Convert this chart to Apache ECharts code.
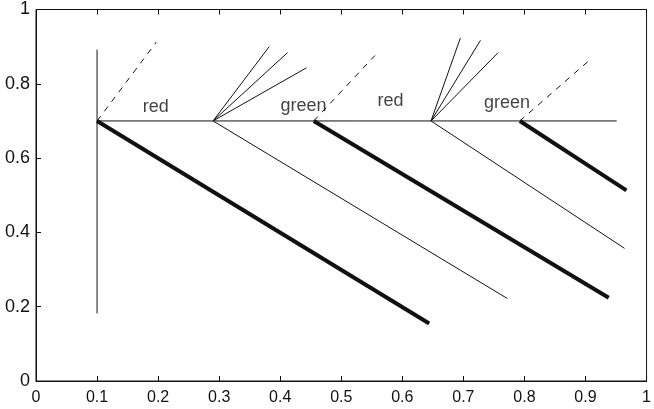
<!DOCTYPE html>
<html>
<head>
<meta charset="utf-8">
<script src="https://cdn.jsdelivr.net/npm/echarts@6/dist/echarts.min.js"></script>
<style>
html,body{margin:0;padding:0;background:#fff;}
#chart{width:654px;height:409px;}
</style>
</head>
<body>
<div id="chart"></div>
<script>
var xTicks = ['0','0.1','0.2','0.3','0.4','0.5','0.6','0.7','0.8','0.9','1'];
var yTicks = ['0','0.2','0.4','0.6','0.8','1'];

// thin solid segments
var vertLine = [[0.1,0.182],[0.1,0.892]];
var horizLine = [[0.1,0.7],[0.951,0.7]];
var fanA1 = [[0.29,0.7],[0.382,0.900]];
var fanA2 = [[0.29,0.7],[0.412,0.884]];
var fanA3 = [[0.29,0.7],[0.443,0.843]];
var fanB1 = [[0.647,0.7],[0.695,0.923]];
var fanB2 = [[0.647,0.7],[0.728,0.917]];
var fanB3 = [[0.647,0.7],[0.757,0.884]];
var thinDiagA = [[0.29,0.7],[0.772,0.222]];
var thinDiagB = [[0.647,0.7],[0.964,0.357]];

// dashed segments
var dashA = [[0.1,0.7],[0.197,0.912]];
var dashB = [[0.455,0.7],[0.555,0.876]];
var dashC = [[0.7925,0.7],[0.904,0.86]];

// thick segments
var thickA = [[0.1,0.7],[0.644,0.155]];
var thickB = [[0.455,0.7],[0.938,0.224]];
var thickC = [[0.7925,0.7],[0.967,0.513]];

var labelText = ['red','green','red','green'];
var labelX = [0.196,0.438,0.5805,0.7715];
var labelY = [0.737,0.741,0.753,0.747];

var ink = '#111';
var fontFam = 'Liberation Sans, Arial, sans-serif';

var gridTop = 9.5, gridBottom = 28, gridLeft = 36, gridRight = 1;
var plotH = 409 - gridTop - gridBottom;
var plotW = 654 - gridLeft - gridRight;
var tickLen = 5;

function seg(d, width, type){
    return {
        type:'line', data:d, symbol:'none', silent:true, animation:false,
        lineStyle:{color:ink, width:width, type:type||'solid'}
    };
}

var series = [];
[vertLine,horizLine,fanA1,fanA2,fanA3,fanB1,fanB2,fanB3,thinDiagA,thinDiagB].forEach(function(d){
    series.push(seg(d, 1));
});
[dashA,dashB,dashC].forEach(function(d){
    series.push(seg(d, 1, [6,6]));
});
[thickA,thickB,thickC].forEach(function(d){
    series.push(seg(d, 4));
});

var labelData = labelText.map(function(t,i){ return {value:[labelX[i],labelY[i]], name:t}; });
series.push({
    type:'scatter', data:labelData, symbolSize:0, silent:true, animation:false,
    label:{show:true, position:'inside', formatter:'{b}', color:ink, textBorderWidth:0,
        fontFamily:fontFam, fontSize:18}
});

var lineSt = {show:true, lineStyle:{color:ink, width:1}};

// inward ticks on all four sides: split lines dashed so only both ends show
function tickSplit(span){
    return {show:true, lineStyle:{color:ink, width:1, type:[tickLen, span - 2*tickLen, tickLen, 4000]}};
}

var chart = echarts.init(document.getElementById('chart'), null, {renderer:'canvas'});
chart.setOption({
    backgroundColor:'#fff',
    animation:false,
    grid:{left:gridLeft, top:gridTop, right:gridRight, bottom:gridBottom, show:true, borderColor:ink, borderWidth:1, backgroundColor:'transparent'},
    xAxis:{
        type:'value', min:0, max:1, interval:0.1,
        axisLine:lineSt, axisTick:{show:false}, splitLine:tickSplit(plotH),
        axisLabel:{margin:9, color:ink, fontFamily:fontFam, fontSize:16,
            formatter:function(v){ return xTicks[Math.round(v*10)]; }}
    },
    yAxis:{
        type:'value', min:0, max:1, interval:0.2,
        axisLine:lineSt, axisTick:{show:false}, splitLine:tickSplit(plotW),
        axisLabel:{margin:6, color:ink, fontFamily:fontFam, fontSize:18,
            formatter:function(v){ return yTicks[Math.round(v*5)]; }}
    },
    series:series
});
</script>
</body>
</html>
